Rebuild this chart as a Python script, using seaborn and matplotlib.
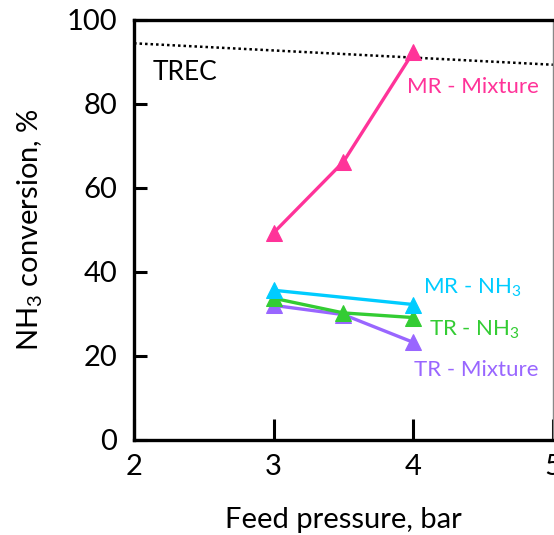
import numpy as np
import pandas as pd
import matplotlib
matplotlib.use("Agg")
import matplotlib.pyplot as plt
import seaborn as sns

# data
pressure = [3.0, 3.5, 4.0]
mr_mixture = [49.3, 66.2, 92.3]
mr_nh3_p = [3.0, 4.0]
mr_nh3 = [35.6, 32.2]
tr_nh3 = [33.7, 30.2, 29.1]
tr_mixture = [32.0, 29.8, 23.2]
trec_p = [2.0, 3.0, 4.0, 5.0]
trec = [94.4, 92.7, 91.0, 89.3]

colors = {"MR - Mixture": "#FF3399", "MR - NH3": "#00CCFF",
          "TR - NH3": "#33CC33", "TR - Mixture": "#9966FF"}

df = pd.concat([
    pd.DataFrame({"p": pressure, "conv": mr_mixture, "series": "MR - Mixture"}),
    pd.DataFrame({"p": mr_nh3_p, "conv": mr_nh3, "series": "MR - NH3"}),
    pd.DataFrame({"p": pressure, "conv": tr_nh3, "series": "TR - NH3"}),
    pd.DataFrame({"p": pressure, "conv": tr_mixture, "series": "TR - Mixture"}),
])

sns.set_style("ticks")
plt.rcParams["font.family"] = ["Lato", "DejaVu Sans"]
plt.rcParams["mathtext.fontset"] = "custom"
plt.rcParams["mathtext.rm"] = "Lato"

fig = plt.figure(figsize=(5.54, 5.35), dpi=100)
ax = fig.add_axes([0.242, 0.178, 0.756, 0.785])

sns.lineplot(data=pd.DataFrame({"p": trec_p, "conv": trec}), x="p", y="conv",
             color="black", linestyle=(0, (1, 1.2)), linewidth=1.8, ax=ax)

order = ["MR - Mixture", "TR - Mixture", "TR - NH3", "MR - NH3"]
for name in order:
    sub = df[df["series"] == name]
    sns.lineplot(data=sub, x="p", y="conv", color=colors[name], linewidth=2.4,
                 marker="^", markersize=12, markeredgecolor=colors[name],
                 ax=ax, legend=False)

ax.set_xlim(2, 5)
ax.set_ylim(0, 100)
ax.set_xticks([2, 3, 4, 5])
ax.set_yticks([0, 20, 40, 60, 80, 100])
ax.tick_params(axis="both", direction="in", labelsize=21, width=2.2,
               color="black", labelcolor="black")
ax.tick_params(axis="x", length=15, pad=10)
ax.tick_params(axis="y", length=9.5, pad=12)

for side in ["left", "bottom", "top"]:
    ax.spines[side].set_linewidth(2.4)
    ax.spines[side].set_color("black")
ax.spines["right"].set_linewidth(1.0)
ax.spines["right"].set_color("#888888")

ax.set_xlabel("Feed pressure, bar", fontsize=21, labelpad=20, color="black")
ax.set_ylabel("NH$_3$ conversion, %", fontsize=21, labelpad=16, color="black")

ax.text(2.13, 87.5, "TREC", fontsize=19, ha="left", va="center", color="black")
ax.text(4.43, 84.0, "MR - Mixture", fontsize=16, ha="center", va="center", color=colors["MR - Mixture"])
ax.text(4.42, 36.3, "MR - NH$_3$", fontsize=16, ha="center", va="center", color=colors["MR - NH3"])
ax.text(4.44, 26.3, "TR - NH$_3$", fontsize=16, ha="center", va="center", color=colors["TR - NH3"])
ax.text(4.45, 16.6, "TR - Mixture", fontsize=16, ha="center", va="center", color=colors["TR - Mixture"])

fig.savefig("out.png", dpi=100)
